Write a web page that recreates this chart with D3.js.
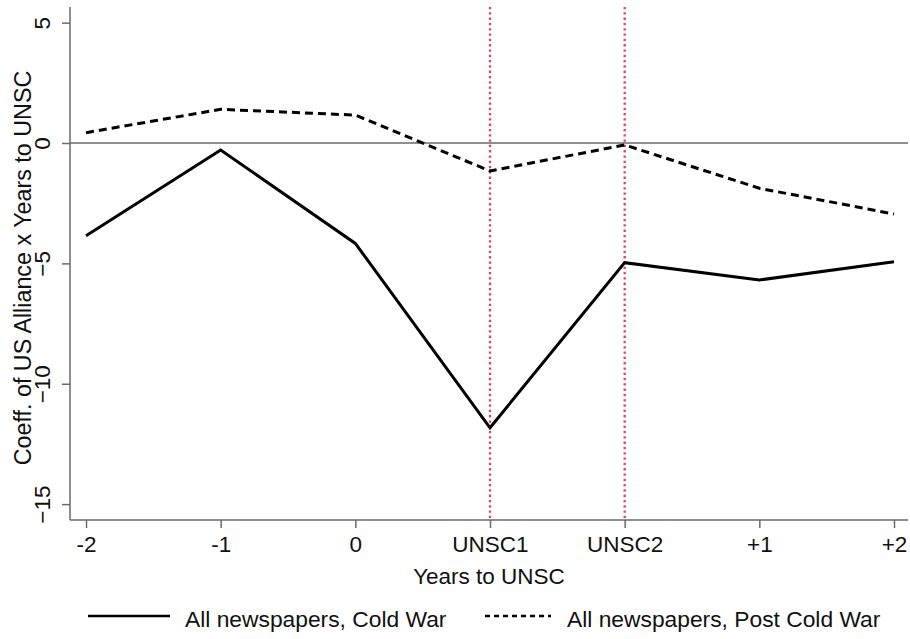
<!DOCTYPE html>
<html>
<head>
<meta charset="utf-8">
<script src="https://cdn.jsdelivr.net/npm/d3@7"></script>
<style>
  html, body { margin: 0; padding: 0; background: #fff; }
  svg { display: block; font-family: "Liberation Sans", Arial, Helvetica, sans-serif; }
</style>
</head>
<body>
<svg id="chart" width="910" height="639"></svg>
<script>
const categories = ["-2", "-1", "0", "UNSC1", "UNSC2", "+1", "+2"];
const coldWar = [-3.85, -0.29, -4.17, -11.83, -4.97, -5.69, -4.93];
const postColdWar = [0.43, 1.40, 1.16, -1.16, -0.08, -1.88, -2.95];
const yTicks = [-15, -10, -5, 0, 5];
const markerCategories = ["UNSC1", "UNSC2"];
const seriesNames = ["All newspapers, Cold War", "All newspapers, Post Cold War"];
const xTitle = "Years to UNSC";
const yTitle = "Coeff. of US Alliance x Years to UNSC";

const svg = d3.select("#chart");
const pLeft = 70, pRight = 908, pTop = 7, pBottom = 520;

const x = d3.scaleLinear().domain([-0.119, 6.104]).range([pLeft, pRight]);
const y = d3.scaleLinear().domain([-15.66, 5.65]).range([pBottom, pTop]);

const axisColor = "#6a6a6a";
const fontSize = 22.5;

// zero line
svg.append("line")
  .attr("x1", pLeft).attr("x2", pRight)
  .attr("y1", y(0)).attr("y2", y(0))
  .attr("stroke", axisColor).attr("stroke-width", 1.5);

// red dotted markers
markerCategories.forEach(c => {
  const i = categories.indexOf(c);
  svg.append("line")
    .attr("x1", x(i)).attr("x2", x(i))
    .attr("y1", pTop).attr("y2", pBottom)
    .attr("stroke", "#e4405a")
    .attr("stroke-width", 2.3)
    .attr("stroke-dasharray", "2.3,3");
});

// Y axis
const yAxis = svg.append("g")
  .attr("transform", `translate(${pLeft},0)`)
  .call(d3.axisLeft(y).tickValues(yTicks).tickSize(8).tickSizeOuter(0).tickFormat(d3.format("d")));
yAxis.select(".domain").attr("stroke", axisColor).attr("stroke-width", 1.5).attr("d", `M0,${pTop}V${pBottom}`);
yAxis.selectAll(".tick line").attr("stroke", axisColor).attr("stroke-width", 1.5);
yAxis.selectAll(".tick text")
  .attr("font-size", fontSize)
  .attr("fill", "#111")
  .attr("x", null).attr("dy", null)
  .attr("text-anchor", "middle")
  .attr("transform", "translate(-20,0) rotate(-90)")
  .attr("y", 0);

// X axis
const xAxis = svg.append("g")
  .attr("transform", `translate(0,${pBottom})`)
  .call(d3.axisBottom(x).tickValues(d3.range(categories.length)).tickSize(8).tickSizeOuter(0).tickFormat(i => categories[i]));
xAxis.select(".domain").attr("stroke", axisColor).attr("stroke-width", 1.5).attr("d", `M${pLeft},0H${pRight}`);
xAxis.selectAll(".tick line").attr("stroke", axisColor).attr("stroke-width", 1.5);
xAxis.selectAll(".tick text")
  .attr("font-size", fontSize)
  .attr("fill", "#111")
  .attr("y", 32).attr("dy", null);

// lines
const line = d3.line().x((d, i) => x(i)).y(d => y(d));
svg.append("path")
  .datum(coldWar)
  .attr("d", line)
  .attr("fill", "none")
  .attr("stroke", "#000")
  .attr("stroke-width", 3)
  .attr("stroke-linejoin", "miter");
svg.append("path")
  .datum(postColdWar)
  .attr("d", line)
  .attr("fill", "none")
  .attr("stroke", "#000")
  .attr("stroke-width", 3)
  .attr("stroke-dasharray", "8,5");

// titles
svg.append("text")
  .attr("x", (pLeft + pRight) / 2)
  .attr("y", 584)
  .attr("text-anchor", "middle")
  .attr("font-size", fontSize)
  .attr("fill", "#111")
  .text(xTitle);

svg.append("text")
  .attr("transform", `translate(31,268) rotate(-90)`)
  .attr("text-anchor", "middle")
  .attr("font-size", 23.3)
  .attr("fill", "#111")
  .text(yTitle);

// legend
const legend = svg.append("g");
const legendItems = [
  { name: seriesNames[0], x0: 88, x1: 170, dash: null, tx: 185 },
  { name: seriesNames[1], x0: 485, x1: 551, dash: "5,4", tx: 567 }
];
legendItems.forEach(it => {
  legend.append("line")
    .attr("x1", it.x0).attr("x2", it.x1)
    .attr("y1", 616).attr("y2", 616)
    .attr("stroke", "#000").attr("stroke-width", 2.5)
    .attr("stroke-dasharray", it.dash);
  legend.append("text")
    .attr("x", it.tx).attr("y", 627)
    .attr("font-size", 22.8)
    .attr("fill", "#111")
    .text(it.name);
});
</script>
</body>
</html>
